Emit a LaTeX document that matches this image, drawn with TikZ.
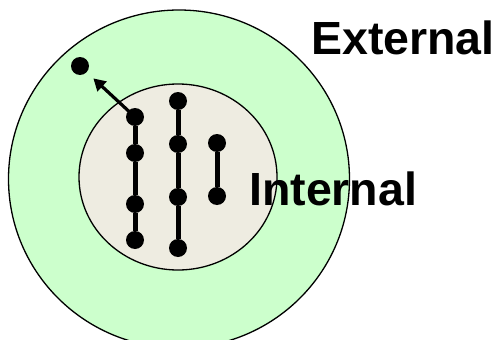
\documentclass[tikz,border=0pt]{standalone}
\usepackage{fontspec}
\setmainfont{Liberation Sans}
\usetikzlibrary{arrows.meta}
\definecolor{outerg}{HTML}{CCFFCC}
\definecolor{innerb}{HTML}{EEECE1}
\begin{document}
\begin{tikzpicture}[x=1pt,y=-1pt,
  dot/.style={circle,fill=black,inner sep=0pt,minimum size=18pt},
  link/.style={line width=5pt},
  lbl/.style={font=\fontsize{46.5}{54}\selectfont\bfseries,inner sep=0pt,anchor=base west}]
\useasboundingbox (0,0) rectangle (501,340);
\begin{scope}
\clip (0,0) rectangle (501,340);
\draw[fill=outerg,line width=1.3pt] (179,179) ellipse [x radius=170.5, y radius=169];
\end{scope}
\draw[fill=innerb,line width=1.3pt] (178,177) ellipse [x radius=99, y radius=93];
\node[dot] (f) at (80,66) {};
\node[dot] (a1) at (135,117) {};
\node[dot] (a2) at (135,153) {};
\node[dot] (a3) at (135,204) {};
\node[dot] (a4) at (135,240) {};
\node[dot] (b1) at (178,101) {};
\node[dot] (b2) at (178,144) {};
\node[dot] (b3) at (178,197) {};
\node[dot] (b4) at (178,248) {};
\node[dot] (c1) at (217,143) {};
\node[dot] (c2) at (217,196) {};
\draw[link] (a1) -- (a2) -- (a3) -- (a4);
\draw[link] (b1) -- (b2) -- (b3) -- (b4);
\draw[link] (c1) -- (c2);
\draw[line width=3.2pt,-{Triangle[length=12pt,width=13pt]},shorten >=9pt] (a1.center) -- (f);
\node[lbl] (ext) at (311,54) {External};
\node[lbl] (int) at (249,205) {Internal};
\end{tikzpicture}
\end{document}
